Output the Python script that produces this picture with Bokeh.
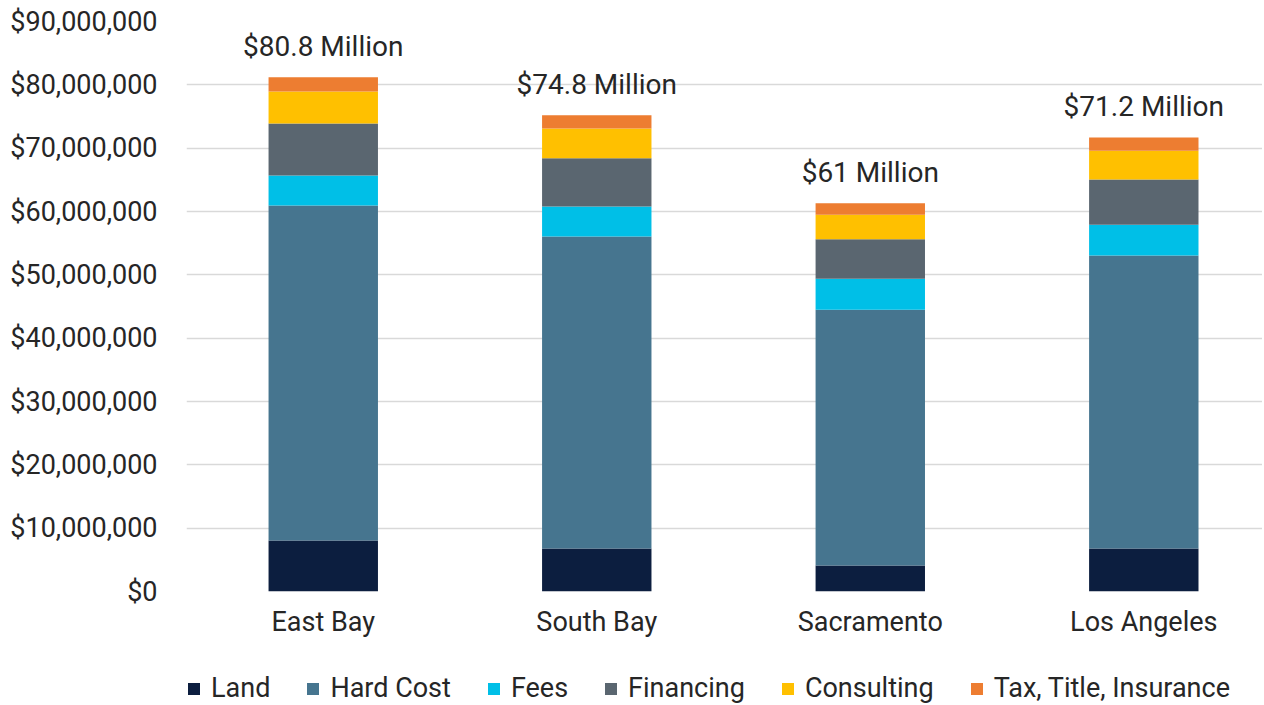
from bokeh.plotting import figure
from bokeh.layouts import column
from bokeh.models import ColumnDataSource, Range1d, FixedTicker, NumeralTickFormatter, Legend, LegendItem
from bokeh.embed import file_html
from bokeh.resources import INLINE
from bokeh.core.properties import value

regions = ["East Bay", "South Bay", "Sacramento", "Los Angeles"]
land = [8.05e6, 6.8e6, 4.1e6, 6.8e6]
hard_cost = [52.9e6, 49.25e6, 40.4e6, 46.25e6]
fees = [4.75e6, 4.75e6, 4.9e6, 4.85e6]
financing = [8.2e6, 7.6e6, 6.2e6, 7.15e6]
consulting = [5.05e6, 4.7e6, 3.9e6, 4.55e6]
tax_title_ins = [2.25e6, 2.1e6, 1.8e6, 2.1e6]
total_labels = ["$80.8 Million", "$74.8 Million", "$61 Million", "$71.2 Million"]

series_names = ["Land", "Hard Cost", "Fees", "Financing", "Consulting", "Tax, Title, Insurance"]
series_keys = ["land", "hard_cost", "fees", "financing", "consulting", "tax"]
colors = ["#0C1E3F", "#46758F", "#00BFE7", "#5A6670", "#FFC000", "#ED7D31"]

FONT = "Roboto"
TXT = "#262626"

xs = list(range(len(regions)))
totals = [a + b + c + d + e + f for a, b, c, d, e, f in
          zip(land, hard_cost, fees, financing, consulting, tax_title_ins)]

src = ColumnDataSource(dict(x=xs, land=land, hard_cost=hard_cost, fees=fees,
                            financing=financing, consulting=consulting, tax=tax_title_ins,
                            total=totals, label=total_labels))

p = figure(width=1262, height=650, output_backend="svg", toolbar_location=None,
           x_range=Range1d(-0.5, 3.434), y_range=Range1d(0, 90e6),
           min_border_left=186, min_border_right=0, min_border_top=21, min_border_bottom=59)
p.outline_line_color = None
p.background_fill_color = "white"
p.border_fill_color = "white"

renderers = p.vbar_stack(series_keys, x="x", width=0.4, source=src, color=colors, line_color=None)

p.text(x="x", y="total", text="label", source=src, text_align="center", text_baseline="alphabetic",
       y_offset=-31, text_font=value(FONT), text_font_size="28px", text_color=TXT)

p.xgrid.visible = False
p.ygrid.grid_line_color = "#D9D9D9"
p.ygrid.grid_line_width = 1.5
p.ygrid.ticker = FixedTicker(ticks=[i * 10e6 for i in range(10)])

p.yaxis.ticker = FixedTicker(ticks=[i * 10e6 for i in range(10)])
p.yaxis.formatter = NumeralTickFormatter(format="$0,0")
p.xaxis.ticker = FixedTicker(ticks=xs)
p.xaxis.major_label_overrides = {i: r for i, r in enumerate(regions)}
for ax in (p.xaxis, p.yaxis):
    ax.axis_line_color = None
    ax.major_tick_line_color = None
    ax.minor_tick_line_color = None
    ax.major_label_text_font = FONT
    ax.major_label_text_font_size = "27px"
    ax.major_label_text_color = TXT
p.yaxis.major_label_standoff = 23
p.xaxis.major_label_standoff = 8

# Legend row as a separate, axis-less figure (frame aligned with the main one)
lf = figure(width=1262, height=55, output_backend="svg", toolbar_location=None,
            x_range=Range1d(0, 1), y_range=Range1d(0, 1),
            min_border_left=186, min_border_right=0, min_border_top=0, min_border_bottom=0)
lf.axis.visible = False
lf.grid.visible = False
lf.outline_line_color = None
hidden = ColumnDataSource(dict(x=[10], top=[1]))  # outside the visible range; only feeds the legend swatches
dummies = [lf.vbar(x="x", top="top", width=0.1, source=hidden, color=c, line_color=None) for c in colors]
legend = Legend(items=[LegendItem(label=n, renderers=[r]) for n, r in zip(series_names, dummies)],
                orientation="horizontal", location=(0, 1), padding=0, margin=0,
                spacing=35, label_standoff=10, glyph_width=15, glyph_height=15,
                label_text_font=FONT, label_text_font_size="27px", label_text_color=TXT,
                border_line_color=None, background_fill_alpha=0)
lf.add_layout(legend, "center")

layout = column(p, lf, spacing=0)
open("out.html", "w").write(file_html(layout, INLINE))
